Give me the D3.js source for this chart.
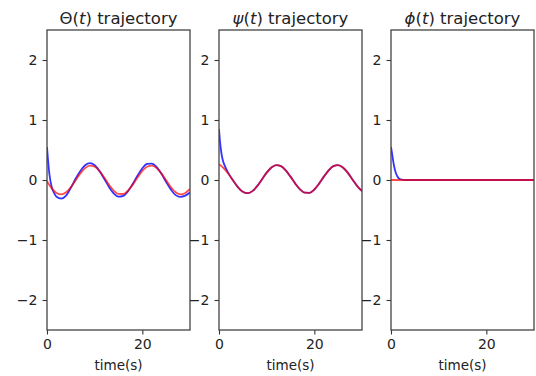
<!DOCTYPE html>
<html>
<head>
<meta charset="utf-8">
<script src="https://cdn.jsdelivr.net/npm/d3@7"></script>
<style>
  html, body { margin: 0; padding: 0; background: #fff; }
  svg { display: block; }
  text { font-family: "DejaVu Sans", sans-serif; fill: #222; }
</style>
</head>
<body>
<svg id="chart" width="536" height="376"></svg>
<script>
// ---------- data ----------
const yTicks = [-2, -1, 0, 1, 2];
const xTicks = [0, 20];

// Theta panel
const thetaBlueT = [0, 0.25, 0.5, 1, 1.5, 2, 3, 4, 5, 6, 7, 8, 9, 10, 11, 12, 13, 14, 15, 16, 17, 18, 19, 20, 21, 22, 23, 24, 25, 26, 27, 28, 29, 30];
const thetaBlueV = [0.55, 0.3, 0.1, -0.12, -0.22, -0.28, -0.31, -0.26, -0.13, 0.02, 0.15, 0.246, 0.28, 0.246, 0.152, 0.021, -0.115, -0.223, -0.277, -0.263, -0.186, -0.062, 0.075, 0.194, 0.268, 0.274, 0.215, 0.104, -0.033, -0.16, -0.252, -0.28, -0.26, -0.21];
const thetaRedT = [0, 1, 2, 3, 4, 5, 6, 7, 8, 9, 10, 11, 12, 13, 14, 15, 16, 17, 18, 19, 20, 21, 22, 23, 24, 25, 26, 27, 28, 29, 30];
const thetaRedV = [-0.02, -0.14, -0.216, -0.24, -0.205, -0.12, -0.006, 0.11, 0.198, 0.239, 0.221, 0.15, 0.042, -0.077, -0.176, -0.232, -0.233, -0.177, -0.077, 0.042, 0.15, 0.221, 0.239, 0.198, 0.11, -0.006, -0.12, -0.205, -0.24, -0.216, -0.15];

// Psi panel
const psiBlueT = [0, 0.2, 0.5, 0.8, 1.2, 1.6, 2, 3, 4, 5, 6, 7, 8, 9, 10, 11, 12, 13, 14, 15, 16, 17, 18, 19, 20, 21, 22, 23, 24, 25, 26, 27, 28, 29, 30];
const psiBlueV = [0.85, 0.65, 0.45, 0.33, 0.24, 0.17, 0.11, -0.014, -0.122, -0.197, -0.22, -0.185, -0.103, 0.009, 0.122, 0.209, 0.249, 0.231, 0.161, 0.056, -0.06, -0.157, -0.212, -0.213, -0.158, -0.06, 0.056, 0.162, 0.232, 0.249, 0.209, 0.123, 0.009, -0.103, -0.185];
const psiRedT = [0, 0.4, 1, 2, 3, 4, 5, 6, 7, 8, 9, 10, 11, 12, 13, 14, 15, 16, 17, 18, 19, 20, 21, 22, 23, 24, 25, 26, 27, 28, 29, 30];
const psiRedV = [0.26, 0.24, 0.195, 0.101, -0.014, -0.122, -0.197, -0.22, -0.185, -0.103, 0.009, 0.122, 0.209, 0.249, 0.231, 0.161, 0.056, -0.06, -0.157, -0.212, -0.213, -0.158, -0.06, 0.056, 0.162, 0.232, 0.249, 0.209, 0.123, 0.009, -0.103, -0.185];

// Phi panel
const phiBlueT = [0, 0.3, 0.6, 1, 1.5, 2, 3, 30];
const phiBlueV = [0.55, 0.4, 0.25, 0.12, 0.04, 0.01, 0, 0];
const phiRedT = [0, 30];
const phiRedV = [0, 0];

const titles = [
  [{t: "Θ(", i: false}, {t: "t", i: true}, {t: ") trajectory", i: false}],
  [{t: "ψ", i: true}, {t: "(", i: false}, {t: "t", i: true}, {t: ") trajectory", i: false}],
  [{t: "ϕ", i: true}, {t: "(", i: false}, {t: "t", i: true}, {t: ") trajectory", i: false}]
];

const panels = [
  {left: 47, blue: [thetaBlueT, thetaBlueV], red: [thetaRedT, thetaRedV]},
  {left: 219, blue: [psiBlueT, psiBlueV], red: [psiRedT, psiRedV]},
  {left: 391, blue: [phiBlueT, phiBlueV], red: [phiRedT, phiRedV]}
];

// ---------- drawing ----------
const svg = d3.select("#chart");
const W = 143, axTop = 30, axBottom = 330;

panels.forEach((p, idx) => {
  const x = d3.scaleLinear().domain([0, 30]).range([p.left, p.left + W]);
  const y = d3.scaleLinear().domain([-2.5, 2.5]).range([axBottom, axTop]);
  const g = svg.append("g");

  const clipId = "clip" + idx;
  svg.append("clipPath").attr("id", clipId)
    .append("rect").attr("x", p.left).attr("y", axTop).attr("width", W).attr("height", axBottom - axTop);

  const line = d3.line().x(d => x(d[0])).y(d => y(d[1])).curve(d3.curveMonotoneX);
  const pts = (arr) => arr[0].map((t, i) => [t, arr[1][i]]);

  const plot = g.append("g").attr("clip-path", `url(#${clipId})`);
  plot.append("path").datum(pts(p.blue)).attr("d", line)
    .attr("fill", "none").attr("stroke", "#0000ff").attr("stroke-opacity", 0.8).attr("stroke-width", 1.8);
  plot.append("path").datum(pts(p.red)).attr("d", line)
    .attr("fill", "none").attr("stroke", "#ff0000").attr("stroke-opacity", 0.7).attr("stroke-width", 1.8);

  // axes
  const yAxis = d3.axisLeft(y).tickValues(yTicks).tickSize(4.5).tickPadding(5)
    .tickFormat(d => d < 0 ? "\u2212" + Math.abs(d) : String(d));
  const xAxis = d3.axisBottom(x).tickValues(xTicks).tickSize(4.5).tickPadding(5)
    .tickFormat(d3.format("d"));

  const ya = g.append("g").attr("transform", `translate(${p.left},0)`).call(yAxis);
  const xa = g.append("g").attr("transform", `translate(0,${axBottom})`).call(xAxis);
  [ya, xa].forEach(a => {
    a.select(".domain").remove();
    a.selectAll("line").attr("stroke", "#333").attr("stroke-width", 1.1);
    a.selectAll("text").attr("font-family", "DejaVu Sans").attr("font-size", 14).attr("fill", "#222");
  });

  // spines
  g.append("rect").attr("x", p.left).attr("y", axTop).attr("width", W).attr("height", axBottom - axTop)
    .attr("fill", "none").attr("stroke", "#444").attr("stroke-width", 1.3);

  // x label
  g.append("text").attr("x", p.left + W / 2).attr("y", 370).attr("text-anchor", "middle")
    .attr("font-size", 13.5).text("time(s)");

  // title
  const tt = g.append("text").attr("x", p.left + W / 2).attr("y", 24).attr("text-anchor", "middle")
    .attr("font-size", 16.5);
  titles[idx].forEach(s => {
    tt.append("tspan").attr("font-style", s.i ? "italic" : "normal").text(s.t);
  });
});
</script>
</body>
</html>
